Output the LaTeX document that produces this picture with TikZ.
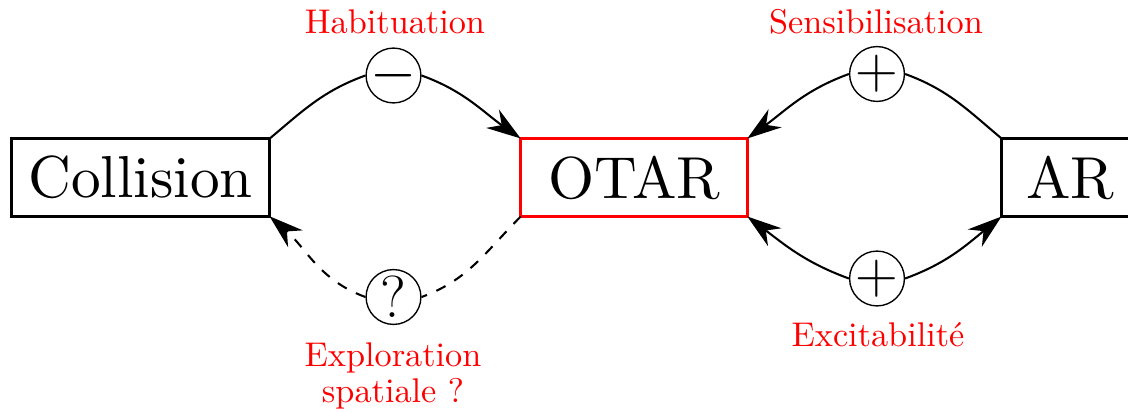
\documentclass[tikz,border=0pt]{standalone}
\usetikzlibrary{arrows.meta}

\tikzset{every picture/.style={line width=0.6pt}}
\tikzset{
  bloc/.style={draw, line width=1pt, font=\fontsize{10}{12}\selectfont, scale=1.728,
    inner xsep=2.85pt, inner ysep=2.9pt, outer sep=0pt, minimum height=13.08pt},
  signe/.style={draw, circle, thin, font=\LARGE, inner sep=-1pt, minimum size=16pt},
  etiq/.style={text=red, inner sep=0pt, align=center},
  fleche/.style={-{Stealth[length=10pt,width=6.5pt]}}
}

\begin{document}
\begin{tikzpicture}[x=0.2917pt,y=0.2917pt,yscale=-1,xscale=1]
\clip (0,0) rectangle (1128,412);

%Shape: Rectangle
\draw (140.5,177.5) node[bloc] (collision) {Collision};
%Shape: Rectangle
\draw (634,177.5) node[bloc, draw=red, minimum width=38.25pt] (otar) {OTAR};
%Shape: Rectangle
\draw (1001.5,177.5) node[bloc, anchor=west, minimum width=23.2pt] (ar) {AR};

%Shape: Circle
\draw (393.5,75.5) node[signe] (moins) {$-$};
%Shape: Circle
\draw (393.5,297) node[signe] (quest) {?};
%Shape: Circle
\draw (877,74) node[signe] (plushaut) {$+$};
%Shape: Circle
\draw (877,278.5) node[signe] (plusbas) {$+$};

% Text Node
\draw (395,22) node[etiq] (habit) {Habituation};
% Text Node
\draw (876,22) node[etiq] (sensib) {Sensibilisation};
% Text Node
\draw (878,335) node[etiq] (excit) {Excitabilité};
% Text Node
\draw (393,376) node[etiq] (explo) {Exploration\\[-1.5pt] spatiale ?};

%Curve Lines
\draw (collision.north east) to[out=-40,in=160] (moins.west);
\draw [fleche] (moins.east) to[out=20,in=-145] (otar.north west);
%Curve Lines
\draw [dashed] (otar.south west) to[out=135,in=-20] (quest.east);
\draw [dashed, fleche] (quest.west) to[out=-160,in=41] (collision.south east);
%Curve Lines
\draw (ar.north west) to[out=-140,in=20] (plushaut.east);
\draw [fleche] (plushaut.west) to[out=160,in=-36] (otar.north east);
%Curve Lines
\draw [fleche] (plusbas.west) to[out=-160,in=37] (otar.south east);
\draw [fleche] (plusbas.east) to[out=-20,in=141] (ar.south west);

\end{tikzpicture}
\end{document}
